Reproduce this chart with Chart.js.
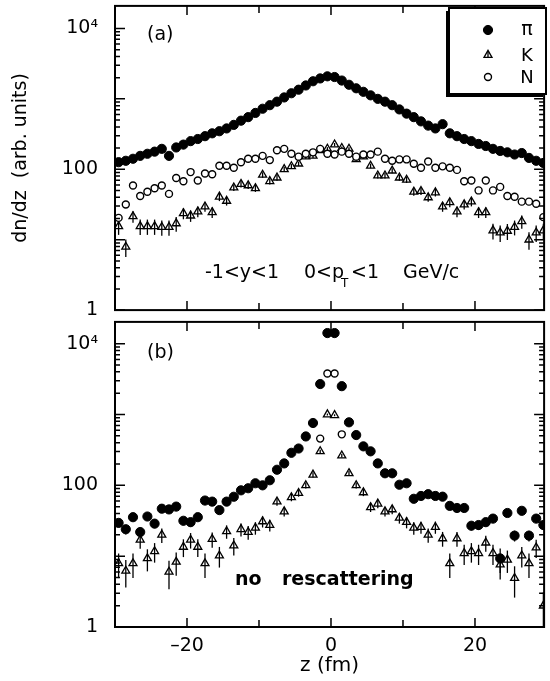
<!DOCTYPE html>
<html>
<head>
<meta charset="utf-8">
<script src="https://cdn.jsdelivr.net/npm/chart.js@4.4.1/dist/chart.umd.min.js"></script>
<style>
  html, body { margin: 0; padding: 0; background: #fff; }
  #quadro { position: relative; width: 550px; height: 681px; }
  canvas { position: absolute; left: 0; }
  #painelA { top: 0; }
  #painelB { top: 316px; }
</style>
</head>
<body>
<div id="quadro">
  <canvas id="painelA" width="550" height="316"></canvas>
  <canvas id="painelB" width="550" height="365"></canvas>
</div>
<script>
const posicoesZ = [
  -29.5, -28.5, -27.5, -26.5, -25.5, -24.5, -23.5, -22.5, -21.5, -20.5,
  -19.5, -18.5, -17.5, -16.5, -15.5, -14.5, -13.5, -12.5, -11.5, -10.5,
  -9.5, -8.5, -7.5, -6.5, -5.5, -4.5, -3.5, -2.5, -1.5, -0.5,
  0.5, 1.5, 2.5, 3.5, 4.5, 5.5, 6.5, 7.5, 8.5, 9.5,
  10.5, 11.5, 12.5, 13.5, 14.5, 15.5, 16.5, 17.5, 18.5, 19.5,
  20.5, 21.5, 22.5, 23.5, 24.5, 25.5, 26.5, 27.5, 28.5, 29.5
];

// painel (a): com reespalhamento
const pionsA = [
  126, 132, 141, 155, 166, 178, 195, 155, 204, 224,
  251, 269, 295, 324, 347, 380, 427, 490, 550, 631,
  724, 813, 912, 1047, 1202, 1349, 1549, 1778, 1950, 2089,
  2042, 1820, 1585, 1413, 1259, 1122, 1000, 912, 813, 708,
  617, 550, 479, 417, 380, 437, 324, 295, 269, 251,
  229, 214, 195, 182, 174, 162, 170, 145, 132, 123
];

const nucleonsA = [
  20.4, 31.6, 58.9, 41.7, 47.9, 53.7, 58.9, 44.7, 75, 67.6,
  91.2, 69.2, 87.1, 85.1, 112, 112, 105, 126, 141, 141,
  155, 135, 186, 195, 166, 151, 166, 174, 195, 166,
  162, 178, 166, 151, 162, 162, 178, 141, 132, 138,
  138, 120, 105, 129, 105, 110, 105, 98, 67.6, 69.2,
  50.1, 69.2, 50.1, 56.2, 41.7, 40.7, 34.7, 34.7, 32.4, 20.9
];

const kaonsA = [
  15.5, 7.9, 21.4, 15.5, 15.5, 15.5, 15.1, 15.1, 17, 23.7,
  21.9, 25.1, 29.5, 24.5, 40.7, 35.5, 55, 61.7, 58.9, 53.7,
  83.2, 67.6, 75.9, 100, 110, 120, 151, 155, 186, 195,
  224, 200, 195, 138, 151, 112, 81.3, 81.3, 95.5, 75.9,
  70.8, 47.9, 49, 39.8, 46.8, 29.5, 33.9, 25.1, 31.6, 34.7,
  24.5, 24.5, 13.5, 12.6, 13.3, 15.1, 18.2, 10, 12.6, 13.5
];

const errosKaonsA = [
  3.8, 2.2, 4, 3.8, 3.8, 3.8, 3.7, 3.7, 4, 4.2,
  4, 4.3, 4.6, 4.2, 5.4, 5, 6, 6.5, 6.3, 6,
  7.5, 6.8, 7.2, 8, 8.5, 9, 10, 10, 11, 11,
  12, 11, 11, 9.5, 10, 8.5, 7.5, 7.5, 8, 7.2,
  7, 5.8, 5.8, 5.3, 5.7, 4.6, 5, 4.3, 4.7, 5,
  4.2, 4.2, 3.4, 3.3, 3.4, 3.6, 3.9, 2.8, 3.3, 3.4
];

// painel (b): sem reespalhamento
const pionsB = [
  29.5, 24, 35.5, 21.9, 36.3, 28.8, 46.8, 45.7, 50.1, 31.6,
  30.2, 35.5, 61, 58.9, 44.7, 58.9, 69, 85, 91, 107,
  100, 118, 166, 204, 288, 331, 490, 759, 2692, 14125,
  14125, 2512, 776, 513, 355, 302, 204, 148, 148, 102,
  107, 64.6, 70.8, 75, 70.8, 69.2, 51.3, 47.9, 47.9, 26.9,
  27.5, 30.2, 33.9, 9.3, 40.7, 19.5, 43.7, 19.5, 33.9, 27.5
];

const errosPionsB = [
  4, 3.7, 4.4, 3.6, 4.5, 4, 5, 5, 5.3, 4.2,
  4.1, 4.4, 6, 5.8, 5, 6, 6.4, 7, 7.3, 8,
  7.6, 8.3, 9, 10, 12, 13, 16, 20, 37, 85,
  85, 36, 20, 16, 13, 12, 10, 8.5, 8.5, 7.6,
  7.8, 6.1, 6.4, 6.6, 6.4, 6.3, 5.4, 5.2, 5.2, 3.9,
  4, 4.1, 4.4, 3.5, 4.8, 3.4, 5, 3.4, 4.4, 4
];

const kaonsB = [
  7.9, 6.2, 7.9, 17, 9.3, 11.7, 20, 6, 8.3, 13.5,
  17, 13.5, 7.9, 17.4, 10.2, 22.4, 14.1, 24, 21.9, 25.1,
  30.9, 27.5, 58.9, 42.7, 67.6, 77.6, 100, 141, 302, 1000,
  977, 263, 148, 100, 79.4, 49, 55, 42.7, 45.7, 34.7,
  30.2, 25.1, 25.7, 20, 25.7, 17.8, 7.9, 17.8, 11, 11.7,
  11, 15.5, 11, 7.6, 8.9, 4.9, 10.2, 7.9, 13.2, 2
];

const errosKaonsB = [
  3, 2.6, 3, 4.3, 3.2, 3.6, 4.6, 2.6, 3, 3.8,
  4.2, 3.8, 3, 4.2, 3.3, 4.8, 3.9, 5, 4.8, 5,
  5.5, 5.2, 7.5, 6.5, 8, 8.5, 10, 12, 17, 31,
  31, 16, 12, 10, 9, 7, 7.4, 6.5, 6.7, 5.9,
  5.5, 5, 5, 4.5, 5, 4.2, 3, 4.2, 3.5, 3.6,
  3.5, 4, 3.5, 2.9, 3.1, 2.3, 3.3, 3, 3.8, 1.1
];

const posicoesNucleonsB = [-1.5, -0.5, 0.5, 1.5];
const nucleonsB = [457, 3802, 3802, 525];

const valoresRotuloX = [-20, 0, 20];
const textosRotuloX = ["\u201320", "0", "20"];
const marcasX = [-20, -10, 0, 10, 20];

const valoresRotuloY = [1, 100, 10000];
const textosRotuloY = ["1", "100", "10\u2074"];

const FONTE = "DejaVu Sans";

Chart.defaults.font.family = FONTE;
Chart.defaults.color = "#000";

function montarPontos(valores, posicoes = posicoesZ) {
  return posicoes.map((z, i) => ({ x: z, y: valores[i] }));
}

const estiloPion = {
  pointStyle: "circle",
  backgroundColor: "#000",
  borderColor: "#000",
  borderWidth: 1
};

const estiloNucleon = {
  pointStyle: "circle",
  pointRadius: 3.5,
  backgroundColor: "#fff",
  borderColor: "#000",
  borderWidth: 1.4
};

const estiloKaon = {
  pointStyle: "triangle",
  pointRadius: 4.6,
  backgroundColor: "rgba(0, 0, 0, 0)",
  borderColor: "#000",
  borderWidth: 1.3
};

function marcasLog() {
  const marcas = [];
  for (let decada = 1; decada < 10000; decada *= 10) {
    for (let m = 1; m <= 9; m++) {
      marcas.push({ valor: m * decada, tamanho: m === 1 ? 10 : 5 });
    }
  }
  marcas.push({ valor: 10000, tamanho: 10 });
  return marcas;
}

const marcasY = marcasLog();

const barrasDeErro = {
  id: "barrasDeErro",
  beforeDatasetsDraw(chart) {
    const { ctx, chartArea, scales } = chart;

    ctx.save();
    ctx.beginPath();
    ctx.rect(chartArea.left, chartArea.top, chartArea.width, chartArea.height);
    ctx.clip();
    ctx.strokeStyle = "#000";
    ctx.lineWidth = 1.3;

    chart.data.datasets.forEach(dataset => {
      if (!dataset.erros) return;

      dataset.data.forEach((ponto, i) => {
        const erro = dataset.erros[i];
        if (!erro) return;

        const x = scales.x.getPixelForValue(ponto.x);
        const topo = scales.y.getPixelForValue(ponto.y + erro);
        const baixo = ponto.y - erro;
        const base = baixo > 0 ? scales.y.getPixelForValue(baixo) : chartArea.bottom;

        ctx.beginPath();
        ctx.moveTo(x, topo);
        ctx.lineTo(x, base);
        ctx.stroke();
      });
    });

    ctx.restore();
  }
};

const moldura = {
  id: "moldura",
  afterDatasetsDraw(chart) {
    const { ctx, chartArea: area, scales: { x, y } } = chart;

    ctx.save();
    ctx.strokeStyle = "#000";
    ctx.lineWidth = 1.5;
    ctx.beginPath();

    marcasY.forEach(marca => {
      const py = y.getPixelForValue(marca.valor);
      ctx.moveTo(area.left, py);
      ctx.lineTo(area.left + marca.tamanho, py);
      ctx.moveTo(area.right, py);
      ctx.lineTo(area.right - marca.tamanho, py);
    });

    marcasX.forEach(valor => {
      const px = x.getPixelForValue(valor);
      const tamanho = valor % 20 === 0 ? 9 : 7;
      ctx.moveTo(px, area.top);
      ctx.lineTo(px, area.top + tamanho);
      ctx.moveTo(px, area.bottom);
      ctx.lineTo(px, area.bottom - tamanho);
    });

    ctx.stroke();

    ctx.lineWidth = 2;
    ctx.strokeRect(area.left, area.top, area.width, area.height);
    ctx.restore();
  }
};

function escrever(ctx, texto, x, y, tamanho, peso = "normal", alinhamento = "left") {
  ctx.font = `${peso} ${tamanho}px "${FONTE}"`;
  ctx.textAlign = alinhamento;
  ctx.fillText(texto, x, y);
}

function desenharLegenda(ctx) {
  const { drawPoint } = Chart.helpers;

  ctx.save();
  ctx.fillStyle = "#000";
  ctx.fillRect(446, 11, 97, 86);
  ctx.fillStyle = "#fff";
  ctx.fillRect(449, 8, 97, 86);
  ctx.strokeStyle = "#000";
  ctx.lineWidth = 2;
  ctx.strokeRect(449, 8, 97, 86);

  ctx.fillStyle = "#000";
  ctx.lineWidth = 1;
  drawPoint(ctx, { pointStyle: "circle", radius: 4.6, borderWidth: 1 }, 488, 30);

  ctx.fillStyle = "rgba(0, 0, 0, 0)";
  ctx.lineWidth = 1.3;
  drawPoint(ctx, { pointStyle: "triangle", radius: 4.6, borderWidth: 1.3 }, 488, 55);
  ctx.beginPath();
  ctx.moveTo(488, 51);
  ctx.lineTo(488, 58);
  ctx.stroke();

  ctx.fillStyle = "#fff";
  ctx.lineWidth = 1.4;
  drawPoint(ctx, { pointStyle: "circle", radius: 3.5, borderWidth: 1.4 }, 488, 77);

  ctx.fillStyle = "#000";
  ctx.textBaseline = "middle";
  escrever(ctx, "\u03c0", 527, 30, 19, "normal", "center");
  escrever(ctx, "K", 527, 56, 18, "normal", "center");
  escrever(ctx, "N", 527, 78, 18, "normal", "center");
  ctx.restore();
}

const textosPainelA = {
  id: "textosPainelA",
  afterDraw(chart) {
    const ctx = chart.ctx;

    ctx.save();
    ctx.fillStyle = "#000";
    ctx.textBaseline = "alphabetic";
    escrever(ctx, "(a)", 147, 40, 19);
    escrever(ctx, "-1<y<1", 205, 278, 19);
    escrever(ctx, "0<p", 304, 278, 19);
    escrever(ctx, "T", 341, 287, 12);
    escrever(ctx, "<1", 351, 278, 19);
    escrever(ctx, "GeV/c", 403, 278, 19);
    ctx.restore();

    desenharLegenda(ctx);
  }
};

const textosPainelB = {
  id: "textosPainelB",
  afterDraw(chart) {
    const ctx = chart.ctx;

    ctx.save();
    ctx.fillStyle = "#000";
    ctx.textBaseline = "alphabetic";
    escrever(ctx, "(b)", 147, 42, 19);
    escrever(ctx, "no", 235, 269, 19, "bold");
    escrever(ctx, "rescattering", 282, 269, 19, "bold");
    ctx.restore();
  }
};

function criarOpcoes({ maximo, comTitulo, comEixoX }) {
  return {
    responsive: false,
    animation: false,
    events: [],
    layout: {
      padding: { left: 0, right: 2, top: comEixoX ? 2 : 4, bottom: comEixoX ? 0 : 2 }
    },
    plugins: {
      legend: { display: false },
      tooltip: { enabled: false }
    },
    scales: {
      x: {
        type: "linear",
        min: -30,
        max: 29.6,
        display: comEixoX,
        grid: { display: false, drawTicks: false },
        border: { display: false },
        afterBuildTicks: escala => {
          escala.ticks = valoresRotuloX.map(valor => ({ value: valor }));
        },
        afterFit: escala => {
          escala.height = comEixoX ? 54 : 0;
          escala.paddingLeft = 0;
          escala.paddingRight = 0;
        },
        ticks: {
          padding: 8,
          autoSkip: false,
          maxRotation: 0,
          font: { size: 19 },
          callback: valor => textosRotuloX[valoresRotuloX.indexOf(valor)] ?? ""
        },
        title: {
          display: true,
          text: "z (fm)",
          font: { size: 20 },
          padding: { top: 0, bottom: 3 }
        }
      },
      y: {
        type: "logarithmic",
        min: 1,
        max: maximo,
        grid: { display: false, drawTicks: false },
        border: { display: false },
        afterBuildTicks: escala => {
          escala.ticks = valoresRotuloY.map(valor => ({ value: valor }));
        },
        afterFit: escala => {
          escala.width = 115;
          escala.paddingTop = 0;
          escala.paddingBottom = 0;
        },
        ticks: {
          padding: 17,
          autoSkip: false,
          font: { size: 19 },
          callback: valor => textosRotuloY[valoresRotuloY.indexOf(valor)] ?? ""
        },
        title: {
          display: comTitulo,
          text: "dn/dz  (arb. units)",
          font: { size: 19 },
          padding: { top: 10, bottom: 0 }
        }
      }
    }
  };
}

new Chart(document.getElementById("painelA"), {
  type: "scatter",
  data: {
    datasets: [
      { ...estiloPion, label: "\u03c0", pointRadius: 4.6, data: montarPontos(pionsA), clip: 0 },
      { ...estiloNucleon, label: "N", data: montarPontos(nucleonsA), clip: 0 },
      { ...estiloKaon, label: "K", data: montarPontos(kaonsA), erros: errosKaonsA, clip: 0 }
    ]
  },
  options: criarOpcoes({ maximo: 20900, comTitulo: true, comEixoX: false }),
  plugins: [barrasDeErro, moldura, textosPainelA]
});

new Chart(document.getElementById("painelB"), {
  type: "scatter",
  data: {
    datasets: [
      { ...estiloPion, label: "\u03c0", pointRadius: 4.6, data: montarPontos(pionsB), erros: errosPionsB, clip: 0 },
      { ...estiloNucleon, label: "N", data: montarPontos(nucleonsB, posicoesNucleonsB), clip: 0 },
      { ...estiloKaon, label: "K", data: montarPontos(kaonsB), erros: errosKaonsB, clip: 0 }
    ]
  },
  options: criarOpcoes({ maximo: 20300, comTitulo: false, comEixoX: true }),
  plugins: [barrasDeErro, moldura, textosPainelB]
});
</script>
</body>
</html>
